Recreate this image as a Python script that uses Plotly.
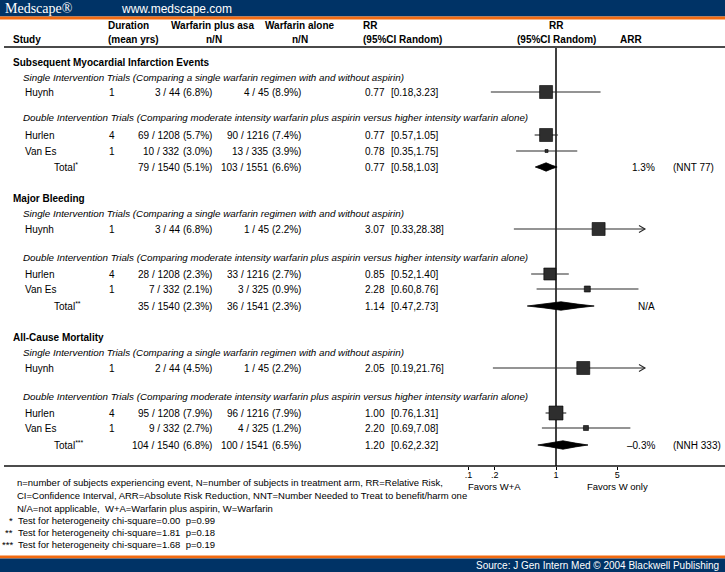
import math
import plotly.graph_objects as go

W, H = 725, 572

# ------------------------------------------------------------------ data
sections = ["Subsequent Myocardial Infarction Events", "Major Bleeding", "All-Cause Mortality"]
single_title = "Single Intervention Trials (Comparing a single warfarin regimen with and without aspirin)"
double_title = ("Double Intervention Trials (Comparing moderate intensity warfarin plus aspirin "
                "versus higher intensity warfarin alone)")
studies = ["Huynh", "Hurlen", "Van Es"]
duration_yrs = [1, 4, 1]
total_marks = ["*", "**", "***"]

# per section: [Huynh, Hurlen, Van Es, Total]
wa_events = [[3, 69, 10, 79], [3, 28, 7, 35], [2, 95, 9, 104]]
wa_n = [[44, 1208, 332, 1540], [44, 1208, 332, 1540], [44, 1208, 332, 1540]]
w_events = [[4, 90, 13, 103], [1, 33, 3, 36], [1, 96, 4, 100]]
w_n = [[45, 1216, 335, 1551], [45, 1216, 325, 1541], [45, 1216, 325, 1541]]
rr = [[0.77, 0.77, 0.78, 0.77], [3.07, 0.85, 2.28, 1.14], [2.05, 1.00, 2.20, 1.20]]
rr_lo = [[0.18, 0.57, 0.35, 0.58], [0.33, 0.52, 0.60, 0.47], [0.19, 0.76, 0.69, 0.62]]
rr_hi = [[3.23, 1.05, 1.75, 1.03], [28.38, 1.40, 8.76, 2.73], [21.76, 1.31, 7.08, 2.32]]
arr_text = ["1.3%", "N/A", "\u20130.3%"]
nnt_text = ["(NNT 77)", "", "(NNH 333)"]
het_chi2 = [0.00, 1.81, 1.68]
het_p = [0.99, 0.18, 0.19]
tick_vals = [0.1, 0.2, 1, 5]
tick_text = [".1", ".2", "1", "5"]
favors_text = ["Favors W+A", "Favors W only"]
favors_at = [0.2, 5]
footnotes = [
    "n=number of subjects experiencing event, N=number of subjects in treatment arm, RR=Relative Risk,",
    "CI=Confidence Interval, ARR=Absolute Risk Reduction, NNT=Number Needed to Treat to benefit/harm one",
    "N/A=not applicable,\u00a0 W+A=Warfarin plus aspirin, W=Warfarin",
]

# ------------------------------------------------------------------ layout / style
FONT = "Arial, Liberation Sans, Helvetica, sans-serif"
NAVY = "#003366"
ORANGE = "#f26a10"
RR1_PX = 556.0          # pixel of RR = 1
PX_PER_DECADE = 87.5
AXIS_MAX = 10.4         # CI lines beyond this get an arrow
section_top = [62, 198, 337]
row_offsets = [[0, 15, 30, 55, 73, 89, 105],
               [0, 15, 31, 59, 76, 91, 108],
               [0, 15, 31, 59, 76, 91, 108]]
box_px = [[13, 13, 3], [13, 12, 6], [13, 14, 5]]
diamond_half = 4.2
HEADER_LINE_Y = 47
AXIS_Y = 466
FOOT_Y = [482, 495, 508, 520, 532, 544]

fig = go.Figure()
ann = []
shapes = []


def txt(x, y, s, anchor="left", size=10, bold=False, italic=False, color="#000", family=FONT):
    if bold:
        s = f"<b>{s}</b>"
    if italic:
        s = f"<i>{s}</i>"
    ann.append(dict(x=x / W, xref="paper", y=y, yref="y", text=s, showarrow=False,
                    xanchor=anchor, yanchor="middle", font=dict(size=size, color=color, family=family)))


def rect(x0, x1, y0, y1, color):
    shapes.append(dict(type="rect", xref="paper", yref="y", x0=x0 / W, x1=x1 / W, y0=y0, y1=y1,
                       fillcolor=color, line=dict(width=0), layer="below"))


def hline(x0, x1, y, color, width):
    shapes.append(dict(type="line", xref="paper", yref="y", x0=x0 / W, x1=x1 / W, y0=y, y1=y,
                       line=dict(color=color, width=width)))


# banners
rect(0, W, 0, 16.5, NAVY)
rect(0, W, 16.5, 19.5, ORANGE)
rect(0, W, 555.5, 558.5, ORANGE)
rect(0, W, 558.5, H, NAVY)
txt(3, 8.5, "Medscape\u00ae", size=14, color="white", family="Liberation Serif, Times New Roman, serif")
txt(119, 8.5, "www.medscape.com", size=12, color="white")
txt(721, 565, "Source: J Gen Intern Med \u00a9 2004 Blackwell Publishing", anchor="right", size=10, color="white")

# column headers
txt(11, 39, "Study", bold=True)
txt(106, 25, "Duration", bold=True)
txt(106, 39, "(mean yrs)", bold=True)
txt(169, 25, "Warfarin plus asa", bold=True)
txt(214, 39, "n/N", anchor="center", bold=True)
txt(263, 25, "Warfarin alone", bold=True)
txt(300, 39, "n/N", anchor="center", bold=True)
txt(361, 25, "RR", bold=True)
txt(361, 39, "(95%CI Random)", bold=True)
txt(556, 25, "RR", anchor="center", bold=True)
txt(556, 39, "(95%CI Random)", anchor="center", bold=True)
txt(618, 39, "ARR", bold=True)
hline(4, W, HEADER_LINE_Y, "#4a4a4a", 2)
hline(4, W, AXIS_Y, "#111", 1.5)

# reference line at RR = 1
fig.add_trace(go.Scatter(x=[1, 1], y=[HEADER_LINE_Y, AXIS_Y], mode="lines",
                         line=dict(color="#000", width=1.5), hoverinfo="skip"))

arrow_back = 10 ** (-6 / PX_PER_DECADE)

for s, title in enumerate(sections):
    offs = [section_top[s] + o for o in row_offsets[s]]
    txt(11, offs[0], title, bold=True)
    txt(21, offs[1], single_title, italic=True, size=9.8)
    txt(21, offs[3], double_title, italic=True, size=9.8)
    study_rows = [offs[2], offs[4], offs[5]]
    all_rows = study_rows + [offs[6]]
    for i, y in enumerate(all_rows):
        if i < 3:
            txt(23, y, studies[i])
            txt(112, y, str(duration_yrs[i]), anchor="center")
        else:
            txt(52, y, f"Total<sup>{total_marks[s]}</sup>")
        txt(182, y, f"{wa_events[s][i]} / {wa_n[s][i]}", anchor="right")
        txt(214, y, f"({100 * wa_events[s][i] / wa_n[s][i]:.1f}%)", anchor="right")
        txt(271, y, f"{w_events[s][i]} / {w_n[s][i]}", anchor="right")
        txt(303, y, f"({100 * w_events[s][i] / w_n[s][i]:.1f}%)", anchor="right")
        txt(363, y, f"{rr[s][i]:.2f}")
        txt(389, y, f"[{rr_lo[s][i]:.2f},{rr_hi[s][i]:.2f}]")

    # study CIs and squares
    for i, y in enumerate(study_rows):
        hi = min(rr_hi[s][i], AXIS_MAX)
        fig.add_trace(go.Scatter(x=[rr_lo[s][i], hi], y=[y, y], mode="lines",
                                 line=dict(color="#2a2a2a", width=1.1), hoverinfo="skip"))
        if rr_hi[s][i] > AXIS_MAX:
            fig.add_trace(go.Scatter(x=[hi * arrow_back, hi, hi * arrow_back], y=[y - 3.5, y, y + 3.5],
                                     mode="lines", line=dict(color="#2a2a2a", width=1.1), hoverinfo="skip"))
        fig.add_trace(go.Scatter(x=[rr[s][i]], y=[y], mode="markers",
                                 marker=dict(symbol="square", size=box_px[s][i], color="#2e2e2e",
                                             line=dict(width=0.6, color="#000")),
                                 hoverinfo="skip"))

    # pooled diamond
    yt = offs[6]
    lo, est, hi = rr_lo[s][3], rr[s][3], rr_hi[s][3]
    l_mid = lo * (est / lo) ** 0.5
    r_mid = est * (hi / est) ** 0.5
    h = diamond_half
    xs = [lo, l_mid, est, r_mid, hi, r_mid, est, l_mid, lo]
    ys = [yt, yt - h * 0.45, yt - h, yt - h * 0.45, yt, yt + h * 0.45, yt + h, yt + h * 0.45, yt]
    fig.add_trace(go.Scatter(x=xs, y=ys, mode="lines", fill="toself", fillcolor="#000",
                             line=dict(color="#000", width=0.8), hoverinfo="skip"))
    # ARR column
    txt(657, yt, arr_text[s], anchor="right")
    if nnt_text[s]:
        txt(671, yt, nnt_text[s])

# favors labels
for t, v in zip(favors_text, favors_at):
    px = RR1_PX + PX_PER_DECADE * math.log10(v)
    txt(px, 486, t, anchor="center", size=9.5)

# footnotes
for k, line in enumerate(footnotes):
    txt(15, FOOT_Y[k], line, size=9.5)
for k in range(3):
    txt(15, FOOT_Y[3 + k], total_marks[k], anchor="right", size=9.5)
    txt(16, FOOT_Y[3 + k], f"Test for heterogeneity chi-square={het_chi2[k]:.2f}\u00a0 p={het_p[k]:.2f}",
        size=9.5)

x_lo = (0 - RR1_PX) / PX_PER_DECADE
x_hi = (W - RR1_PX) / PX_PER_DECADE

fig.update_layout(
    width=W, height=H, margin=dict(l=0, r=0, t=0, b=0, pad=0),
    paper_bgcolor="white", plot_bgcolor="white", showlegend=False,
    annotations=ann, shapes=shapes,
    xaxis=dict(type="log", range=[x_lo, x_hi], domain=[0, 1], anchor="free", position=1 - AXIS_Y / H,
               showgrid=False, zeroline=False, showline=False,
               tickvals=tick_vals, ticktext=tick_text, ticks="outside", ticklen=3, tickwidth=1,
               ticklabelstandoff=-3,
               tickcolor="#000", tickfont=dict(size=9, family=FONT, color="#000"), fixedrange=True),
    yaxis=dict(range=[H, 0], domain=[0, 1], visible=False, fixedrange=True),
)

fig.write_html("out.html", config={"displayModeBar": False},
               post_script="document.body.style.margin='0';document.body.style.overflow='hidden';")
